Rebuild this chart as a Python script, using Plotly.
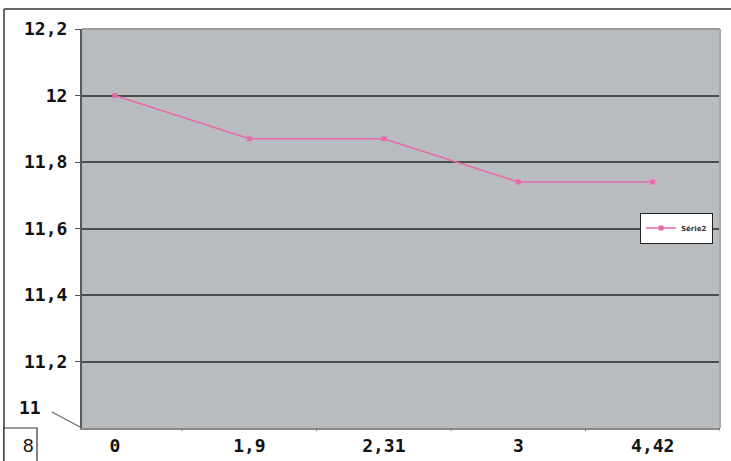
import plotly.graph_objects as go

categories = ["0", "1,9", "2,31", "3", "4,42"]
values = [12.0, 11.87, 11.87, 11.74, 11.74]
y_ticks = [11.0, 11.2, 11.4, 11.6, 11.8, 12.0, 12.2]
y_tick_labels = ["11", "11,2", "11,4", "11,6", "11,8", "12", "12,2"]
series_name = "Série2"
figure_tag = "8"

W, H = 731, 461
L, R, T, B = 82, 720, 29, 428
pw, ph = R - L, B - T

def px(x):
    return (x - L) / pw

def py(y):
    return (B - y) / ph

idx = list(range(len(categories)))
pink = "#e86aaa"
font_main = dict(family="DejaVu Sans Mono", size=18, color="#111111", weight="bold")

fig = go.Figure()
fig.add_trace(go.Scatter(
    x=idx, y=values, mode="lines+markers", name=series_name,
    line=dict(color=pink, width=1.6),
    marker=dict(symbol="square", size=5, color=pink),
))

fig.update_layout(
    width=W, height=H,
    margin=dict(l=L, r=W - R, t=T, b=H - B),
    paper_bgcolor="white",
    plot_bgcolor="#b8bcbe",
    showlegend=True,
    legend=dict(
        x=px(640), y=py(228), xanchor="left", yanchor="middle",
        bgcolor="white", bordercolor="#222222", borderwidth=1,
        font=dict(family="DejaVu Sans", size=7, color="#333333", weight="bold"),
        itemwidth=30, tracegroupgap=0,
    ),
    xaxis=dict(
        range=[-0.245, 4.5], automargin=False,
        tickmode="array", tickvals=idx, ticktext=categories,
        showgrid=False, zeroline=False,
        ticks="", tickfont=font_main,
        showline=True, linecolor="#8a8a8a", linewidth=2,
        fixedrange=True,
    ),
    yaxis=dict(
        range=[y_ticks[0], y_ticks[-1]], automargin=False,
        tickmode="array", tickvals=y_ticks[1:],
        ticktext=y_tick_labels[1:],
        showgrid=True, gridcolor="#4d4d4d", gridwidth=2,
        zeroline=False, ticks="outside", ticklen=5, tickcolor="#555555",
        tickfont=font_main, ticklabelstandoff=4,
        showline=True, linecolor="#5a5a5a", linewidth=2,
        fixedrange=True,
    ),
)

# minor ticks between categories on the x axis
for i in range(len(categories)):
    xb = i + 0.5
    fig.add_shape(type="line", xref="x", yref="paper", x0=xb, x1=xb, y0=0, y1=-0.008,
                  line=dict(color="#777777", width=1))

# plot area top and right edges (lighter)
fig.add_shape(type="line", xref="paper", yref="paper", x0=0, x1=1, y0=1, y1=1,
              line=dict(color="#9a9a9a", width=2), layer="above")
fig.add_shape(type="line", xref="paper", yref="paper", x0=1, x1=1, y0=0, y1=1,
              line=dict(color="#a8a8a8", width=2), layer="above")

# figure frame lines (top and left)
fig.add_shape(type="line", xref="paper", yref="paper", x0=px(4), x1=px(731), y0=py(9), y1=py(9),
              line=dict(color="#333333", width=1.5))
fig.add_shape(type="line", xref="paper", yref="paper", x0=px(4), x1=px(4), y0=py(9), y1=py(461),
              line=dict(color="#333333", width=1.5))
# figure number box
fig.add_shape(type="rect", xref="paper", yref="paper", x0=px(4), x1=px(37), y0=py(428), y1=py(462),
              line=dict(color="#333333", width=1.2), fillcolor="white")
fig.add_annotation(xref="paper", yref="paper", x=px(20.5), y=py(445), yanchor="middle",
                   text=figure_tag, showarrow=False,
                   font=dict(family="Liberation Sans", size=19, color="#111111"))

# bottom "11" label with diagonal break line
fig.add_annotation(xref="paper", yref="y", x=px(43), y=y_ticks[0], yshift=21, xanchor="right",
                   text=y_tick_labels[0], showarrow=False, font=font_main)
fig.add_shape(type="line", xref="paper", yref="paper", x0=px(52), x1=px(80), y0=py(412), y1=py(427),
              line=dict(color="#666666", width=1.2))

fig.write_html("out.html", config={"displayModeBar": False},
               post_script="document.body.style.margin='0';document.body.style.overflow='hidden';")
